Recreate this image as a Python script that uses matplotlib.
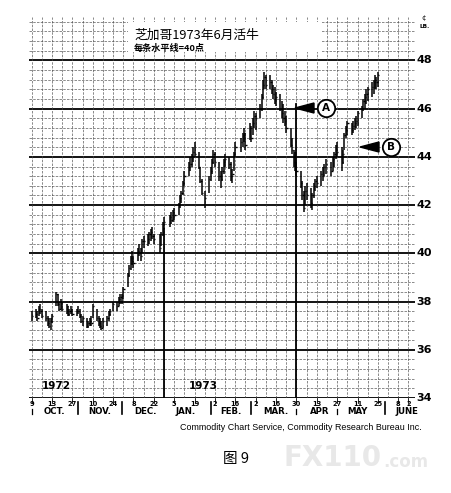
import matplotlib
matplotlib.use('Agg')
import matplotlib.pyplot as plt
import matplotlib.dates as mdates
import matplotlib.transforms as mtransforms
from matplotlib.patches import Rectangle, Polygon
from matplotlib.lines import Line2D
import pandas as pd
import numpy as np

plt.rcParams['font.family'] = ['Noto Sans CJK SC', 'DejaVu Sans']

# ---------------- data ----------------
start_date = '1972-09-29'
end_date = '1973-05-25'
holidays = ['1972-11-23', '1972-12-25', '1973-01-01', '1973-01-25', '1973-02-19', '1973-04-20']

highs = [37.6,
         37.7, 37.6, 37.8, 37.9, 37.7,
         37.6, 37.4, 37.3, 37.3, 37.5,
         38.4, 38.3, 38.0, 38.1, 38.0,
         37.9, 37.8, 37.7, 37.8, 37.7,
         37.7, 37.8, 37.7, 37.5, 37.4,
         37.3, 37.2, 37.3, 37.4, 37.9,
         37.7, 37.4, 37.3, 37.2, 37.3,
         37.4, 37.6, 37.7, 38.0,
         38.0, 38.2, 38.3, 38.3, 38.6,
         39.2, 39.5, 39.9, 40.1, 39.9,
         40.2, 40.4, 40.2, 40.6, 40.7,
         40.8, 40.9, 41.0, 41.1, 40.8,
         40.8, 40.9, 41.3, 41.5,
         41.6, 41.7, 41.8, 41.9,
         42.1, 42.4, 42.6, 43.0, 43.4,
         43.8, 44.0, 44.1, 44.4, 44.6,
         44.2, 43.6, 43.1, 42.6,
         43.2, 43.6, 43.9, 44.3, 44.2,
         43.8, 43.4, 43.6, 43.9, 44.1,
         44.0, 43.8, 43.5, 44.2, 44.6,
         44.8, 45.0, 45.2, 45.0,
         45.4, 45.3, 45.6, 45.9, 45.8,
         46.2, 46.6, 47.2, 47.5, 47.4,
         47.4, 47.2, 47.0, 46.9, 46.7,
         46.6, 46.3, 46.2, 45.9, 45.7,
         45.2, 44.8, 44.3, 44.2, 43.8,
         43.4, 43.0, 42.6, 42.8, 42.9,
         42.7, 42.5, 42.9, 43.1, 43.2,
         43.4, 43.6, 43.7, 43.9,
         43.8, 44.0, 44.2, 44.5, 44.6,
         44.4, 44.3, 45.0, 45.3, 45.5,
         45.4, 45.5, 45.6, 45.7, 45.9,
         46.1, 46.4, 46.6, 46.8, 46.9,
         47.1, 47.2, 47.4, 47.3, 47.5]

lows = [37.2,
        37.3, 37.2, 37.4, 37.5, 37.3,
        37.2, 37.0, 36.9, 36.8, 37.1,
        37.8, 37.8, 37.6, 37.7, 37.6,
        37.5, 37.4, 37.4, 37.5, 37.4,
        37.4, 37.5, 37.3, 37.1, 37.0,
        36.9, 36.9, 37.0, 37.0, 37.3,
        37.2, 37.0, 36.9, 36.8, 36.9,
        37.0, 37.2, 37.4, 37.6,
        37.6, 37.8, 37.9, 37.9, 38.1,
        38.6, 39.0, 39.3, 39.5, 39.4,
        39.7, 39.9, 39.7, 40.0, 40.2,
        40.3, 40.4, 40.5, 40.6, 40.4,
        40.0, 40.3, 40.7, 41.0,
        41.1, 41.2, 41.3, 41.4,
        41.6, 41.9, 42.1, 42.4, 42.8,
        43.2, 43.4, 43.6, 43.8, 44.0,
        43.5, 42.9, 42.4, 41.9,
        42.5, 43.0, 43.3, 43.7, 43.6,
        43.0, 42.7, 43.0, 43.3, 43.6,
        43.5, 43.0, 42.9, 43.4, 44.0,
        44.2, 44.4, 44.6, 44.3,
        44.7, 44.6, 44.9, 45.2, 45.1,
        45.6, 45.9, 46.4, 46.8, 46.8,
        46.8, 46.6, 46.4, 46.2, 46.1,
        45.9, 45.6, 45.4, 45.3, 45.0,
        44.4, 44.1, 43.6, 43.4, 43.2,
        42.7, 42.2, 41.7, 42.0, 42.2,
        41.9, 41.8, 42.3, 42.6, 42.7,
        42.8, 43.0, 43.2, 43.3,
        43.2, 43.4, 43.6, 43.9, 44.0,
        43.4, 43.7, 44.3, 44.8, 44.9,
        44.9, 45.0, 45.1, 45.2, 45.3,
        45.6, 45.9, 46.0, 46.2, 46.3,
        46.5, 46.6, 46.8, 46.8, 46.9]

closes = [37.4,
          37.5, 37.3, 37.7, 37.6, 37.4,
          37.3, 37.1, 37.0, 37.2, 37.4,
          38.3, 37.9, 37.7, 38.0, 37.7,
          37.8, 37.5, 37.6, 37.7, 37.5,
          37.6, 37.6, 37.4, 37.2, 37.3,
          37.0, 37.1, 37.2, 37.1, 37.8,
          37.3, 37.1, 37.0, 36.9, 37.2,
          37.3, 37.5, 37.6, 37.9,
          37.8, 38.1, 38.2, 38.0, 38.5,
          39.1, 39.4, 39.8, 39.7, 39.6,
          40.1, 40.0, 39.9, 40.5, 40.5,
          40.6, 40.8, 40.9, 40.7, 40.6,
          40.2, 40.8, 41.2, 41.3,
          41.5, 41.4, 41.7, 41.6,
          42.0, 42.3, 42.5, 42.9, 43.2,
          43.6, 43.7, 44.0, 44.2, 44.1,
          43.6, 43.0, 42.5, 42.3,
          43.1, 43.4, 43.8, 44.1, 43.8,
          43.2, 43.1, 43.4, 43.8, 43.9,
          43.7, 43.2, 43.3, 44.1, 44.4,
          44.6, 44.9, 45.0, 44.5,
          45.2, 44.8, 45.4, 45.7, 45.6,
          46.0, 46.5, 47.0, 47.3, 47.0,
          47.1, 46.8, 46.6, 46.4, 46.5,
          46.0, 45.8, 45.6, 45.5, 45.2,
          44.5, 44.3, 43.8, 43.6, 43.4,
          42.9, 42.4, 41.9, 42.6, 42.4,
          42.1, 42.4, 42.8, 43.0, 42.9,
          43.3, 43.2, 43.6, 43.7,
          43.4, 43.9, 44.1, 44.3, 44.2,
          43.8, 44.1, 44.9, 45.1, 45.4,
          45.1, 45.3, 45.4, 45.5, 45.8,
          46.0, 46.3, 46.5, 46.6, 46.8,
          46.9, 47.1, 47.2, 47.1, 47.4]

price_labels = ['34', '36', '38', '40', '42', '44', '46', '48']
price_label_values = [34, 36, 38, 40, 42, 44, 46, 48]

date_tick_dates = ['1972-09-29', '1972-10-13', '1972-10-27', '1972-11-10', '1972-11-24',
                   '1972-12-08', '1972-12-22', '1973-01-05', '1973-01-19', '1973-02-02',
                   '1973-02-16', '1973-03-02', '1973-03-16', '1973-03-30', '1973-04-13',
                   '1973-04-27', '1973-05-11', '1973-05-25', '1973-06-08', '1973-06-15']
date_tick_labels = ['9', '13', '27', '10', '24', '8', '22', '5', '19', '2',
                    '16', '2', '16', '30', '13', '27', '11', '25', '8', '2']

month_names = ['OCT.', 'NOV.', 'DEC.', 'JAN.', 'FEB.', 'MAR.', 'APR', 'MAY', 'JUNE']
month_name_dates = ['1972-10-15', '1972-11-15', '1972-12-16', '1973-01-13', '1973-02-13',
                    '1973-03-16', '1973-04-15', '1973-05-11', '1973-06-14']
month_sep_dates = ['1972-10-31', '1972-11-30', '1973-01-30', '1973-02-27', '1973-05-30']
small_mark_dates = ['1972-09-29', '1973-03-30', '1973-04-27']

title = '芝加哥1973年6月活牛'
subtitle = '每条水平线=40点'
year_labels = ['1972', '1973']
year_label_dates = ['1972-10-06', '1973-01-15']

# ---------------- build ----------------
dates = pd.bdate_range(start_date, end_date)
dates = dates[~dates.isin(pd.to_datetime(holidays))]
x = mdates.date2num(dates.to_pydatetime())

W, H = 452, 493
fig = plt.figure(figsize=(W / 100, H / 100), dpi=100)
fig.patch.set_facecolor('white')
ax_l, ax_r, ax_t, ax_b = 29, 415, 17, 398
ax = fig.add_axes([ax_l / W, 1 - ax_b / H, (ax_r - ax_l) / W, (ax_b - ax_t) / H])
ax.set_facecolor('white')

x0 = mdates.date2num(pd.Timestamp('1972-09-27').to_pydatetime()) + 0.2
x1 = mdates.date2num(pd.Timestamp('1973-06-19').to_pydatetime()) + 0.5
ax.set_xlim(x0, x1)
ax.set_ylim(34, 49.8)

for s in ax.spines.values():
    s.set_visible(False)

# horizontal grid
for k in range(0, 40):
    v = 34 + 0.4 * k
    if v > 49.8:
        break
    heavy = abs(v - round(v)) < 1e-6 and int(round(v)) % 2 == 0
    ax.axhline(v, color='black' if heavy else '#4a4a4a',
               lw=1.3 if heavy else 0.45, zorder=1,
               ls='-' if heavy else (0, (4, 2)))

# vertical weekly grid (Fridays)
fridays = pd.date_range('1972-09-29', '1973-06-19', freq='W-FRI')
for d in fridays:
    xv = mdates.date2num(d.to_pydatetime())
    ax.axvline(xv, color='#4a4a4a', lw=0.45, zorder=1, ls=(0, (4, 2)))
# heavy quarter lines (lower part)
ax.plot([mdates.date2num(pd.Timestamp('1972-12-29').to_pydatetime())] * 2, [34, 41.0],
        color='black', lw=1.3, zorder=1)
ax.plot([mdates.date2num(pd.Timestamp('1973-03-30').to_pydatetime())] * 2, [34, 46.2],
        color='black', lw=1.3, zorder=1)

# price bars
ax.vlines(x, lows, highs, color='black', lw=1.1, zorder=4)
ax.hlines(closes, x, x + 0.9, color='black', lw=1.0, zorder=4)

# title box
ax.add_patch(Rectangle(((128 - ax_l) / (ax_r - ax_l), (ax_b - 52) / (ax_b - ax_t)),
                       (322 - 128) / (ax_r - ax_l), 30 / (ax_b - ax_t),
                       transform=ax.transAxes, facecolor='white', edgecolor='none', zorder=2))
ax.text((134 - ax_l) / (ax_r - ax_l), (ax_b - 35) / (ax_b - ax_t), title,
        transform=ax.transAxes, fontsize=9.2, va='center', ha='left', zorder=5)
ax.text((134 - ax_l) / (ax_r - ax_l), (ax_b - 48) / (ax_b - ax_t), subtitle,
        transform=ax.transAxes, fontsize=6.6, fontweight='bold', va='center', ha='left', zorder=5)

# arrows A and B
def ax_xy(px, py):
    return ((px - ax_l) / (ax_r - ax_l), (ax_b - py) / (ax_b - ax_t))

for (tip, base, py, cx, letter) in [(295, 314, 108, 326, 'A'), (360, 379, 147, 391, 'B')]:
    p1 = ax_xy(tip, py)
    p2 = ax_xy(base, py - 5)
    p3 = ax_xy(base, py + 5)
    ax.add_patch(Polygon([p1, p2, p3], closed=True, transform=ax.transAxes,
                         facecolor='black', edgecolor='black', zorder=6))
    c = ax_xy(cx, py)
    ax.plot([c[0]], [c[1]], marker='o', ms=12.5, mfc='white', mec='black', mew=1.3,
            transform=ax.transAxes, zorder=6, clip_on=False)
    ax.text(c[0], c[1], letter, transform=ax.transAxes, ha='center', va='center',
            fontsize=7.5, fontweight='bold', family='DejaVu Sans', zorder=7)

# y labels on right
ax.set_yticks([])
ax.set_xticks([])
for lab, v in zip(price_labels, price_label_values):
    ax.text(1.004, v, lab, transform=mtransforms.blended_transform_factory(ax.transAxes, ax.transData),
            ha='left', va='center', fontsize=8, fontweight='bold',
            family=['Liberation Sans Narrow', 'DejaVu Sans'], clip_on=False)
ax.text((424 - ax_l) / (ax_r - ax_l), (ax_b - 19) / (ax_b - ax_t), '¢',
        transform=ax.transAxes, fontsize=5, ha='center', va='center', family='DejaVu Sans')
ax.text((425 - ax_l) / (ax_r - ax_l), (ax_b - 27) / (ax_b - ax_t), 'LB.',
        transform=ax.transAxes, fontsize=4.2, fontweight='bold', ha='center', va='center',
        family='DejaVu Sans')

# year labels
for lab, d in zip(year_labels, year_label_dates):
    ax.text(mdates.date2num(pd.Timestamp(d).to_pydatetime()), 34.5, lab,
            fontsize=7.5, fontweight='bold', ha='left', va='center',
            family=['Liberation Sans Narrow', 'DejaVu Sans'], zorder=5)

# date axis labels
bt = mtransforms.blended_transform_factory(ax.transData, fig.transFigure)
for lab, d in zip(date_tick_labels, date_tick_dates):
    xv = mdates.date2num(pd.Timestamp(d).to_pydatetime())
    fig.text(xv, 1 - 403.5 / H, lab, transform=bt, fontsize=4.8, fontweight='bold',
             ha='center', va='center', family='DejaVu Sans')
    ax.plot([xv, xv], [34, 33.8], color='black', lw=0.6, clip_on=False)
for lab, d in zip(month_names, month_name_dates):
    xv = mdates.date2num(pd.Timestamp(d).to_pydatetime())
    fig.text(xv, 1 - 411.5 / H, lab, transform=bt, fontsize=6.2, fontweight='bold',
             ha='center', va='center', family='DejaVu Sans')
for d in month_sep_dates:
    xv = mdates.date2num(pd.Timestamp(d).to_pydatetime())
    fig.add_artist(Line2D([xv, xv], [1 - 402 / H, 1 - 414 / H], transform=bt,
                          color='black', lw=1.2))
for d in small_mark_dates:
    xv = mdates.date2num(pd.Timestamp(d).to_pydatetime())
    fig.add_artist(Line2D([xv, xv], [1 - 409 / H, 1 - 414 / H], transform=bt,
                          color='black', lw=0.9))

# credits
fig.text(422 / W, 1 - 428 / H, 'Commodity Chart Service, Commodity Research Bureau Inc.',
         ha='right', va='center', fontsize=6.4, family='Liberation Sans')
fig.text(283 / W, 1 - 458 / H, 'FX110', ha='left', va='center', fontsize=20,
         fontweight='bold', color='#e8e8e8', family='DejaVu Sans')
fig.text(383 / W, 1 - 462 / H, '.com', ha='left', va='center', fontsize=12,
         fontweight='bold', color='#e8e8e8', family='DejaVu Sans')
fig.text(236 / W, 1 - 459 / H, '图 9', ha='center', va='center', fontsize=10.5,
         family=['Noto Sans CJK SC'])

fig.savefig('out.png', dpi=100, facecolor='white')
